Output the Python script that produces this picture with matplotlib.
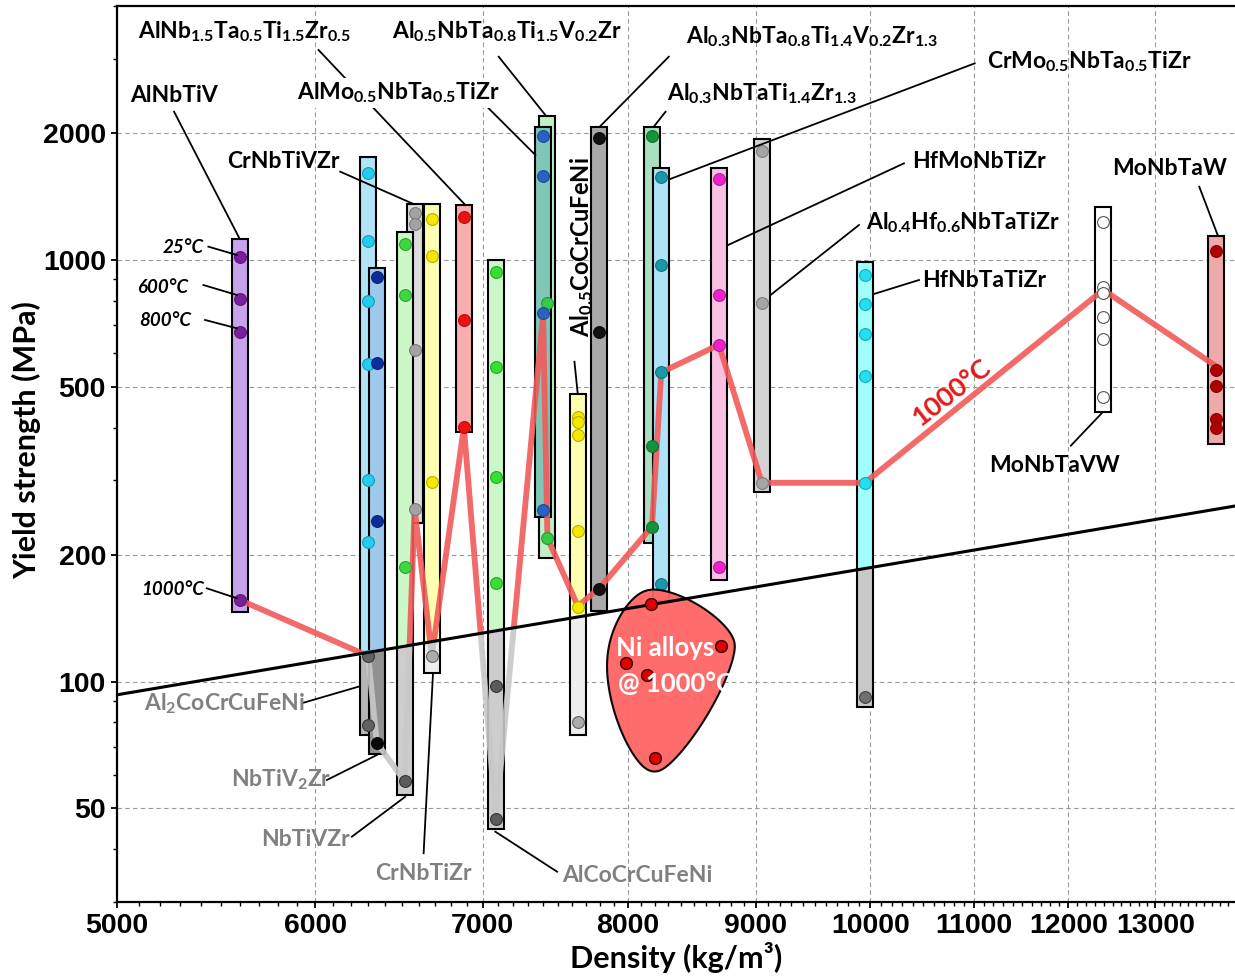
import numpy as np
import matplotlib
matplotlib.use('Agg')
import matplotlib.pyplot as plt
from matplotlib.patches import Polygon, Rectangle
from matplotlib.colors import to_rgb
from matplotlib.ticker import FixedLocator, FixedFormatter, NullFormatter

plt.rcParams['font.family'] = ['Lato', 'DejaVu Sans']
plt.rcParams['mathtext.fontset'] = 'custom'
plt.rcParams['mathtext.rm'] = 'Lato:bold'
plt.rcParams['mathtext.it'] = 'Lato:bold:italic'
plt.rcParams['mathtext.bf'] = 'Lato:bold'

# ---- data (density kg/m3, yield strength MPa) ----
bar_density = [5600, 6300, 6350, 6575, 6515, 6680, 6880, 7085, 7430, 7400,
               7640, 7790, 8180, 8250, 8700, 9050, 9950, 12390, 13750]
bar_low = [146, 74.5, 67.4, 238, 53.8, 105, 390, 44.6, 196, 246,
           74.5, 147, 213, 155, 174, 281, 87.1, 435, 365]
bar_high = [1121, 1751, 956, 1358, 1163, 1358, 1350, 1000, 2194, 2069,
            481, 2069, 2069, 1655, 1650, 1932, 988, 1337, 1140]
bar_points = [
    [1015, 808, 676, 156],
    [1610, 1111, 800, 566, 300, 214, 115, 78.7],
    [910, 569, 240, 71.6],
    [1290, 1217, 612, 257],
    [1089, 826, 187, 58],
    [1251, 1022, 297, 115],
    [1267, 721, 401],
    [938, 556, 305, 171, 97.5, 47.1],
    [790, 219],
    [1967, 1582, 749, 255],
    [424, 412, 385, 228, 150, 80],
    [1949, 674, 166],
    [1971, 361, 233],
    [1576, 973, 541, 170],
    [1556, 826, 629, 187],
    [1816, 792, 296],
    [920, 786, 668, 531, 296, 92],
    [1233, 862, 834, 732, 650, 472],
    [1052, 549, 503, 419, 400],
]

# 1000 C strength line
hot_density = [5600, 6300, 6350, 6515, 6575, 6680, 6880, 7085, 7400, 7430,
               7640, 7790, 8180, 8250, 8700, 9050, 9950, 12390, 13750]
hot_strength = [156, 115, 71.6, 58, 257, 115, 401, 47.1, 740, 219,
                151, 166, 233, 541, 629, 296, 296, 849, 559]

# Ni superalloys at 1000 C
ni_density = [8170, 7990, 8140, 8720, 8200]
ni_strength = [153, 110.7, 103.9, 121.7, 65.7]

# constant specific strength line
spec_density = [5000, 14000]
spec_strength = [93, 261]

x_ticks = [5000, 6000, 7000, 8000, 9000, 10000, 11000, 12000, 13000]
y_ticks = [50, 100, 200, 500, 1000, 2000]

# ---- styles ----
bar_fill = ['#c8a2ea', '#b3e3f7', '#9fc9ec', '#dcdcdc', '#ccf7c6', '#ffffb0',
            '#f8aeae', '#ccf7c6', '#c2f0c2', '#80c6b6', '#ffffb0', '#a9a9a9',
            '#a8dfc0', '#aee2f6', '#f9c0e2', '#d3d3d3', '#a2fdfd', '#ffffff',
            '#eeaaaa']
bar_dot = ['#7a1e9c', '#22cdf0', '#0b2c9c', '#a3a3a3', '#3ed83e', '#f5e800',
           '#ee1111', '#33e033', '#33cc44', '#2a62c4', '#f5e800', '#111111',
           '#14943a', '#1a98aa', '#ee22cc', '#a5a5a5', '#22e0f0', '#ffffff',
           '#b00000']
BAR_HALF = 10 ** (8 / 2501)


def to_gray(c):
    r, g, b = to_rgb(c)
    lum = (0.299 * r + 0.587 * g + 0.114 * b) ** 2
    return (lum, lum, lum)


def dot_edge(c):
    if c == '#ffffff':
        return '#555555'
    return tuple(v * 0.75 for v in to_rgb(c))


def soft_hull(pts, pad=13, k=0.07, n=360):
    # rounded, slightly bulging outline around points (display units)
    c = pts.mean(axis=0)
    rel = pts - c
    th = np.linspace(0, 2 * np.pi, n, endpoint=False)
    u = np.column_stack([np.cos(th), np.sin(th)])
    up = np.column_stack([-np.sin(th), np.cos(th)])
    proj = rel @ u.T
    m = proj.max(axis=0)
    h = m + np.log(np.exp(k * (proj - m)).sum(axis=0)) / k + pad
    dh = (np.roll(h, -1) - np.roll(h, 1)) / (2 * (th[1] - th[0]))
    return c + h[:, None] * u + dh[:, None] * up


fig = plt.figure(figsize=(12.35, 9.8), dpi=100)
ax = fig.add_axes([117 / 1235, 78 / 980, 1119 / 1235, 896 / 980])
ax.set_xscale('log')
ax.set_yscale('log')
ax.set_xlim(5000, 14000)
ax.set_ylim(30, 4000)

# regions above / below the specific-strength line
above = Polygon([(spec_density[0], spec_strength[0]), (spec_density[1], spec_strength[1]),
                 (spec_density[1], 4000), (spec_density[0], 4000)], transform=ax.transData)
below = Polygon([(spec_density[0], spec_strength[0]), (spec_density[1], spec_strength[1]),
                 (spec_density[1], 30), (spec_density[0], 30)], transform=ax.transData)


def draw_layer(clip, gray):
    for d, lo, hi, pts, fc, dc in zip(bar_density, bar_low, bar_high, bar_points,
                                      bar_fill, bar_dot):
        f = to_gray(fc) if gray else fc
        r = Rectangle((d / BAR_HALF, lo), d * BAR_HALF - d / BAR_HALF, hi - lo,
                      facecolor=f, edgecolor='black', lw=1.5, zorder=2)
        ax.add_patch(r)
        r.set_clip_path(clip)
        mc = to_gray(dc) if gray else dc
        me = to_gray(dot_edge(dc)) if gray else dot_edge(dc)
        ln, = ax.plot([d] * len(pts), pts, 'o', ms=8.5, mfc=mc, mec=me, mew=0.8,
                      zorder=4)
        ln.set_clip_path(clip)
    hl, = ax.plot(hot_density, hot_strength, color='#c8c8c8' if gray else '#f25a5a',
                  lw=4.2, alpha=0.9, solid_joinstyle='miter', zorder=3)
    hl.set_clip_path(clip)


draw_layer(above, False)
draw_layer(below, True)

# Ni alloys region (rounded outline around the points)
fig.canvas.draw()
disp = ax.transData.transform(np.column_stack([ni_density, ni_strength]))
outline = ax.transData.inverted().transform(soft_hull(disp))
ax.add_patch(Polygon(outline, closed=True, facecolor='#ff6464', edgecolor='black',
                     lw=1.5, alpha=0.95, zorder=5))
ax.plot(ni_density, ni_strength, 'o', ms=8.5, mfc='#e00000', mec='#300000',
        mew=1.0, zorder=7)

ax.plot(spec_density, spec_strength, color='black', lw=2.2, zorder=6)

# axes styling
ax.xaxis.set_major_locator(FixedLocator(x_ticks))
ax.xaxis.set_major_formatter(FixedFormatter([str(t) for t in x_ticks]))
ax.xaxis.set_minor_locator(FixedLocator([v for v in range(5000, 14001, 100) if v not in x_ticks]))
ax.xaxis.set_minor_formatter(NullFormatter())
ax.yaxis.set_major_locator(FixedLocator(y_ticks))
ax.yaxis.set_major_formatter(FixedFormatter([str(t) for t in y_ticks]))
ax.yaxis.set_minor_locator(FixedLocator([30, 40, 60, 70, 80, 90, 300, 400, 600, 700,
                                         800, 900, 3000, 4000]))
ax.yaxis.set_minor_formatter(NullFormatter())
ax.tick_params(which='major', direction='out', length=4, width=1.3, pad=4)
ax.tick_params(which='minor', direction='out', length=3, width=1.0)
for lab in ax.get_xticklabels() + ax.get_yticklabels():
    lab.set_fontfamily('Liberation Sans')
    lab.set_fontweight('bold')
    lab.set_fontsize(20.5)
ax.grid(True, which='major', ls=(0, (4, 3)), color='#999999', lw=0.8)
ax.set_axisbelow(True)
for s in ['left', 'bottom', 'top']:
    ax.spines[s].set_linewidth(1.6)
ax.spines['right'].set_visible(False)

ax.set_xlabel('Density (kg/m³)', fontsize=22, fontweight='bold', labelpad=2)
ax.set_ylabel('Yield strength (MPa)', fontsize=22, fontweight='bold')
ax.yaxis.set_label_coords(-0.068, 0.515)

# labels
names = [
    (r'AlNb$_{1.5}$Ta$_{0.5}$Ti$_{1.5}$Zr$_{0.5}$', 0.0188, 0.9637),
    (r'Al$_{0.5}$NbTa$_{0.8}$Ti$_{1.5}$V$_{0.2}$Zr', 0.2460, 0.9637),
    (r'Al$_{0.3}$NbTa$_{0.8}$Ti$_{1.4}$V$_{0.2}$Zr$_{1.3}$', 0.5081, 0.9584),
    (r'CrMo$_{0.5}$NbTa$_{0.5}$TiZr', 0.7779, 0.9305),
    ('AlNbTiV', 0.0116, 0.8932),
    ('CrNbTiVZr', 0.0981, 0.8189),
    (r'Al$_{0.3}$NbTaTi$_{1.4}$Zr$_{1.3}$', 0.4917, 0.8951),
    ('HfMoNbTiZr', 0.7108, 0.8189),
    (r'Al$_{0.4}$Hf$_{0.6}$NbTaTiZr', 0.6691, 0.7508),
    ('HfNbTaTiZr', 0.7198, 0.6867),
    ('MoNbTaW', 0.8897, 0.8114),
    ('MoNbTaVW', 0.7793, 0.4802),
]
gray_names = [
    (r'Al$_2$CoCrCuFeNi', 0.0242, 0.2135),
    (r'NbTiV$_2$Zr', 0.1017, 0.1287),
    ('NbTiVZr', 0.1285, 0.0625),
    ('CrNbTiZr', 0.2308, 0.0246),
    ('AlCoCrCuFeNi', 0.3978, 0.0227),
]
temps = [('25°C', 0.0409, 0.7247), ('600°C', 0.0182, 0.6800),
         ('800°C', 0.0199, 0.6429), ('1000°C', 0.0221, 0.3426)]
leaders = [
    ((0.1801, 0.9509), (0.3113, 0.7779)),
    ((0.3411, 0.9434), (0.3828, 0.8783)),
    ((0.4931, 0.9434), (0.4314, 0.8653)),
    ((0.7665, 0.9360), (0.4937, 0.8066)),
    ((0.0510, 0.8820), (0.1094, 0.7407)),
    ((0.3321, 0.8858), (0.3739, 0.8337)),
    ((0.1995, 0.8151), (0.2650, 0.7790)),
    ((0.4902, 0.8820), (0.4797, 0.8653)),
    ((0.7033, 0.8244), (0.5462, 0.7333)),
    ((0.6631, 0.7556), (0.5841, 0.6775)),
    ((0.7167, 0.6942), (0.6765, 0.6786)),
    ((0.9672, 0.7983), (0.9836, 0.7444)),
    ((0.8524, 0.5093), (0.8799, 0.5454)),
    ((0.4088, 0.6030), (0.4117, 0.5677)),
    ((0.0817, 0.7314), (0.1071, 0.7221)),
    ((0.0772, 0.6886), (0.1071, 0.6775)),
    ((0.0787, 0.6496), (0.1071, 0.6403)),
    ((0.0802, 0.3501), (0.1071, 0.3390)),
    ((0.1666, 0.2224), (0.2158, 0.2403)),
    ((0.1876, 0.1362), (0.2323, 0.1641)),
    ((0.2099, 0.0729), (0.2576, 0.1175)),
    ((0.2740, 0.0544), (0.2824, 0.2552)),
    ((0.3381, 0.0785), (0.3933, 0.0338)),
]
for (x0, y0), (x1, y1) in leaders:
    ax.plot([x0, x1], [y0, y1], color='black', lw=1.3, transform=ax.transAxes,
            zorder=8, clip_on=False)

for txt, fx, fy in names:
    ax.text(fx, fy, txt, transform=ax.transAxes, fontsize=16.5, fontweight='bold',
            ha='left', va='baseline', zorder=9)
ax.text(0.1607, 0.8959, r'AlMo$_{0.5}$NbTa$_{0.5}$TiZr', transform=ax.transAxes,
        fontsize=16.5, fontweight='bold', ha='left', va='baseline', zorder=9,
        bbox=dict(facecolor='white', edgecolor='none', pad=2))
for txt, fx, fy in gray_names:
    ax.text(fx, fy, txt, transform=ax.transAxes, fontsize=16.5, fontweight='bold',
            color='#808080', ha='left', va='baseline', zorder=9)
for txt, fx, fy in temps:
    ax.text(fx, fy, txt, transform=ax.transAxes, fontsize=13.5, fontweight='bold',
            style='italic', ha='left', va='baseline', zorder=9)
ax.text(0.4150, 0.7305, r'Al$_{0.5}$CoCrCuFeNi', transform=ax.transAxes,
        fontsize=17, fontweight='bold', rotation=90, ha='center', va='center', zorder=9)
ax.text(0.7460, 0.5681, '1000°C', transform=ax.transAxes, fontsize=19.5,
        fontweight='bold', color='#e41a1a', rotation=38, ha='center', va='center', zorder=9)
ax.text(0.4463, 0.2746, 'Ni alloys', transform=ax.transAxes, fontsize=18.5,
        fontweight='bold', color='white', ha='left', va='baseline', zorder=9)
ax.text(0.4478, 0.2347, '@ 1000°C', transform=ax.transAxes, fontsize=18.5,
        fontweight='bold', color='white', ha='left', va='baseline', zorder=9)

fig.savefig('out.png', dpi=100)
